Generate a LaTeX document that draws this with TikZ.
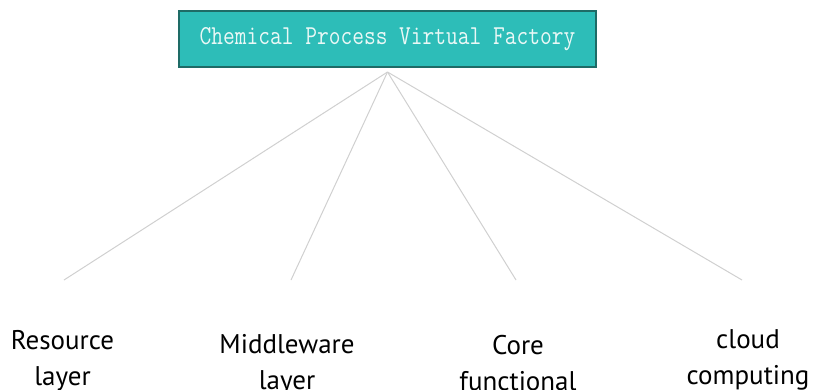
\documentclass[tikz,border=0pt]{standalone}
\usepackage{fontspec}
\setmainfont{PT Sans}
\definecolor{boxfill}{HTML}{2DBDB8}
\definecolor{boxline}{HTML}{1E6B66}
\definecolor{titletext}{HTML}{EAF8F6}
\definecolor{linkgray}{HTML}{D0D0D0}
\begin{document}
\begin{tikzpicture}[x=1pt,y=-1pt,
  titlebox/.style={draw=boxline, line width=2pt, fill=boxfill, minimum width=417pt, minimum height=56pt, inner sep=0pt},
  link/.style={draw=linkgray, line width=1pt},
  layerlabel/.style={font=\fontsize{27}{36}\selectfont, align=center, anchor=base, inner sep=0pt, text=black}]
\useasboundingbox (0,0) rectangle (813,389);
\node[titlebox] (top) at (387.5,39) {\raisebox{-3pt}{\scalebox{1}[1.2]{\ttfamily\fontsize{22.8}{26}\selectfont\color{titletext}Chemical Process Virtual Factory}}};
\coordinate (apex) at ([yshift=-4pt]top.south);
\coordinate (e1) at (64,280);
\coordinate (e2) at (291,280);
\coordinate (e3) at (516,280);
\coordinate (e4) at (742,280);
\draw[link] (apex) -- (e1);
\draw[link] (apex) -- (e2);
\draw[link] (apex) -- (e3);
\draw[link] (apex) -- (e4);
\node[layerlabel] (l1) at (62.5,385) {Resource\\layer};
\node[layerlabel] (l2) at (287,389) {Middleware\\layer};
\node[layerlabel] (l3) at (518,390) {Core\\functional};
\node[layerlabel] (l4) at (748,384) {cloud\\computing};
\end{tikzpicture}
\end{document}
